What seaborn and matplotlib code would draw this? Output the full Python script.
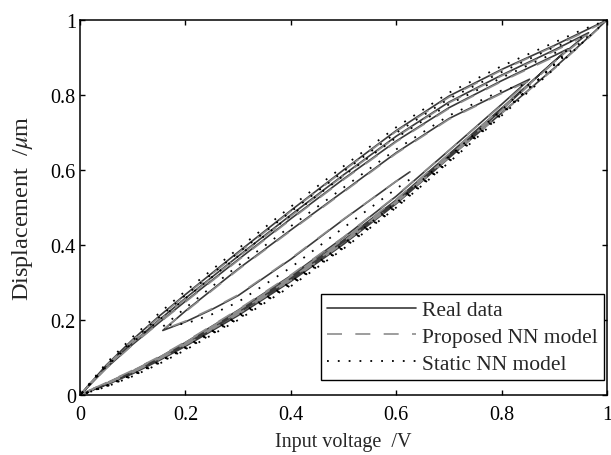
import matplotlib
matplotlib.use("Agg")
import matplotlib.pyplot as plt
import pandas as pd
import seaborn as sns

# Hysteresis branches (input voltage in V, displacement in um)
# Branch 1: ascending 0 -> 1
x1 = [0, 0.05, 0.1, 0.15, 0.2, 0.3, 0.4, 0.5, 0.6, 0.7, 0.8, 0.9, 0.95, 1.0]
real1 = [0, 0.027, 0.057, 0.092, 0.13, 0.212, 0.303, 0.402, 0.51, 0.632, 0.752, 0.872, 0.935, 1.0]
nn1 = [0, 0.029, 0.06, 0.095, 0.133, 0.216, 0.306, 0.405, 0.512, 0.633, 0.751, 0.87, 0.933, 0.998]
static1 = [0, 0.022, 0.05, 0.083, 0.12, 0.2, 0.29, 0.39, 0.5, 0.62, 0.745, 0.87, 0.935, 1.0]

# Branch 2: descending 1 -> 0
x2 = [1.0, 0.95, 0.9, 0.8, 0.7, 0.6, 0.5, 0.4, 0.3, 0.2, 0.15, 0.1, 0.05, 0]
real2 = [1.0, 0.966, 0.932, 0.868, 0.797, 0.705, 0.6, 0.492, 0.381, 0.268, 0.21, 0.148, 0.08, 0]
nn2 = [0.998, 0.963, 0.93, 0.866, 0.794, 0.703, 0.598, 0.49, 0.378, 0.266, 0.207, 0.146, 0.078, 0.002]
static2 = [1.0, 0.972, 0.94, 0.877, 0.806, 0.714, 0.61, 0.502, 0.39, 0.277, 0.218, 0.155, 0.085, 0]

# Branch 3: ascending 0 -> 0.965
x3 = [0, 0.05, 0.1, 0.15, 0.2, 0.3, 0.4, 0.5, 0.6, 0.7, 0.8, 0.9, 0.965]
real3 = [0, 0.03, 0.062, 0.098, 0.137, 0.222, 0.313, 0.413, 0.52, 0.642, 0.765, 0.89, 0.966]
nn3 = [0.002, 0.032, 0.065, 0.1, 0.14, 0.225, 0.316, 0.415, 0.522, 0.643, 0.764, 0.888, 0.962]
static3 = [0, 0.024, 0.053, 0.087, 0.125, 0.207, 0.297, 0.396, 0.505, 0.627, 0.752, 0.88, 0.958]

# Branch 4: descending 0.965 -> 0
x4 = [0.965, 0.9, 0.8, 0.7, 0.6, 0.5, 0.4, 0.3, 0.2, 0.15, 0.1, 0.05, 0]
real4 = [0.966, 0.92, 0.853, 0.781, 0.69, 0.587, 0.48, 0.37, 0.258, 0.2, 0.14, 0.075, 0]
nn4 = [0.962, 0.917, 0.851, 0.779, 0.688, 0.585, 0.477, 0.368, 0.256, 0.198, 0.139, 0.074, 0.001]
static4 = [0.96, 0.928, 0.861, 0.79, 0.699, 0.596, 0.489, 0.379, 0.266, 0.207, 0.146, 0.079, 0]

# Branch 5: ascending 0 -> 0.926
x5 = [0, 0.05, 0.1, 0.15, 0.2, 0.3, 0.4, 0.5, 0.6, 0.7, 0.8, 0.88, 0.926]
real5 = [0, 0.029, 0.06, 0.095, 0.134, 0.218, 0.308, 0.408, 0.515, 0.636, 0.76, 0.865, 0.923]
nn5 = [0.001, 0.031, 0.063, 0.098, 0.137, 0.221, 0.311, 0.41, 0.517, 0.637, 0.759, 0.862, 0.92]
static5 = [0, 0.023, 0.051, 0.085, 0.122, 0.203, 0.293, 0.392, 0.5, 0.622, 0.748, 0.855, 0.918]

# Branch 6: descending 0.926 -> 0
x6 = [0.926, 0.9, 0.8, 0.7, 0.6, 0.5, 0.4, 0.3, 0.2, 0.15, 0.1, 0.05, 0]
real6 = [0.923, 0.905, 0.838, 0.766, 0.677, 0.576, 0.47, 0.361, 0.25, 0.193, 0.135, 0.072, 0]
nn6 = [0.92, 0.902, 0.836, 0.764, 0.675, 0.574, 0.468, 0.359, 0.248, 0.192, 0.134, 0.071, 0.001]
static6 = [0.918, 0.912, 0.846, 0.775, 0.686, 0.585, 0.479, 0.37, 0.258, 0.2, 0.14, 0.076, 0]

# Branch 7: ascending 0 -> 0.853
x7 = [0, 0.05, 0.1, 0.15, 0.2, 0.3, 0.4, 0.5, 0.6, 0.7, 0.8, 0.853]
real7 = [0, 0.031, 0.064, 0.1, 0.14, 0.226, 0.318, 0.42, 0.53, 0.652, 0.775, 0.842]
nn7 = [0.001, 0.033, 0.066, 0.102, 0.142, 0.228, 0.32, 0.421, 0.531, 0.652, 0.773, 0.838]
static7 = [0, 0.025, 0.055, 0.089, 0.128, 0.212, 0.302, 0.403, 0.512, 0.635, 0.76, 0.83]

# Branch 8: descending 0.853 -> 0.157
x8 = [0.853, 0.8, 0.7, 0.6, 0.5, 0.4, 0.3, 0.2, 0.157]
real8 = [0.842, 0.806, 0.737, 0.646, 0.543, 0.44, 0.336, 0.224, 0.172]
nn8 = [0.838, 0.804, 0.735, 0.644, 0.541, 0.438, 0.334, 0.222, 0.174]
static8 = [0.832, 0.812, 0.745, 0.655, 0.553, 0.45, 0.345, 0.232, 0.182]

# Branch 9: ascending 0.157 -> 0.626 (end of record)
x9 = [0.157, 0.2, 0.25, 0.3, 0.4, 0.5, 0.6, 0.626]
real9 = [0.172, 0.195, 0.228, 0.265, 0.362, 0.468, 0.57, 0.595]
nn9 = [0.174, 0.197, 0.23, 0.267, 0.364, 0.469, 0.57, 0.594]
static9 = [0.186, 0.19, 0.215, 0.248, 0.34, 0.446, 0.55, 0.575]

models = ["Real data", "Proposed NN model", "Static NN model"]
tick_values = [0, 0.2, 0.4, 0.6, 0.8, 1.0]
tick_labels = ["0", "0.2", "0.4", "0.6", "0.8", "1"]

branches = [
    (x1, real1, nn1, static1),
    (x2, real2, nn2, static2),
    (x3, real3, nn3, static3),
    (x4, real4, nn4, static4),
    (x5, real5, nn5, static5),
    (x6, real6, nn6, static6),
    (x7, real7, nn7, static7),
    (x8, real8, nn8, static8),
    (x9, real9, nn9, static9),
]

rows = []
for k, model in enumerate(models):
    step = 0
    for branch in branches:
        xs, ys = branch[0], branch[k + 1]
        for xv, yv in zip(xs, ys):
            rows.append({"model": model, "step": step, "voltage": xv, "displacement": yv})
            step += 1
df = pd.DataFrame(rows)

sns.set_theme(style="ticks")
plt.rcParams["font.family"] = ["Liberation Serif", "DejaVu Serif"]
plt.rcParams["mathtext.fontset"] = "stix"

fig = plt.figure(figsize=(6.11, 4.56), dpi=100)
ax = fig.add_axes([0.131, 0.1316, 0.8625, 0.8224])

palette = {"Real data": "#3a3a3a", "Proposed NN model": "#8c8c8c", "Static NN model": "#000000"}
dashes = {"Real data": "", "Proposed NN model": (9, 8), "Static NN model": (1, 5)}

sns.lineplot(
    data=df,
    x="voltage",
    y="displacement",
    hue="model",
    style="model",
    hue_order=models,
    style_order=models,
    palette=palette,
    dashes=dashes,
    sort=False,
    estimator=None,
    linewidth=1.2,
    legend=False,
    ax=ax,
)
ax.lines[2].set_linewidth(1.3)

ax.set_xlim(0, 1)
ax.set_ylim(0, 1)
ax.set_xticks(tick_values)
ax.set_xticklabels(tick_labels)
ax.set_yticks(tick_values)
ax.set_yticklabels(tick_labels)
ax.tick_params(direction="in", top=True, right=True, length=3.5, width=1, labelsize=14.5, colors="black")
ax.tick_params(axis="x", pad=7)
ax.tick_params(axis="y", pad=3)
for sp in ax.spines.values():
    sp.set_visible(True)
    sp.set_linewidth(1.1)
    sp.set_color("black")

ax.set_xlabel("Input voltage  /V", fontsize=14.5, labelpad=6)
ax.set_ylabel("Displacement  /$\\mu$m", fontsize=17.5, labelpad=11)

leg = ax.legend(
    handles=ax.lines[:3],
    labels=models,
    loc="lower right",
    bbox_to_anchor=(0.995, 0.04),
    borderaxespad=0,
    fontsize=15.5,
    handlelength=4.1,
    handletextpad=0.3,
    labelspacing=0.3,
    borderpad=0.3,
    fancybox=False,
    framealpha=1,
    edgecolor="black",
)
leg.get_frame().set_linewidth(1.0)

fig.savefig("out.png", dpi=100)
